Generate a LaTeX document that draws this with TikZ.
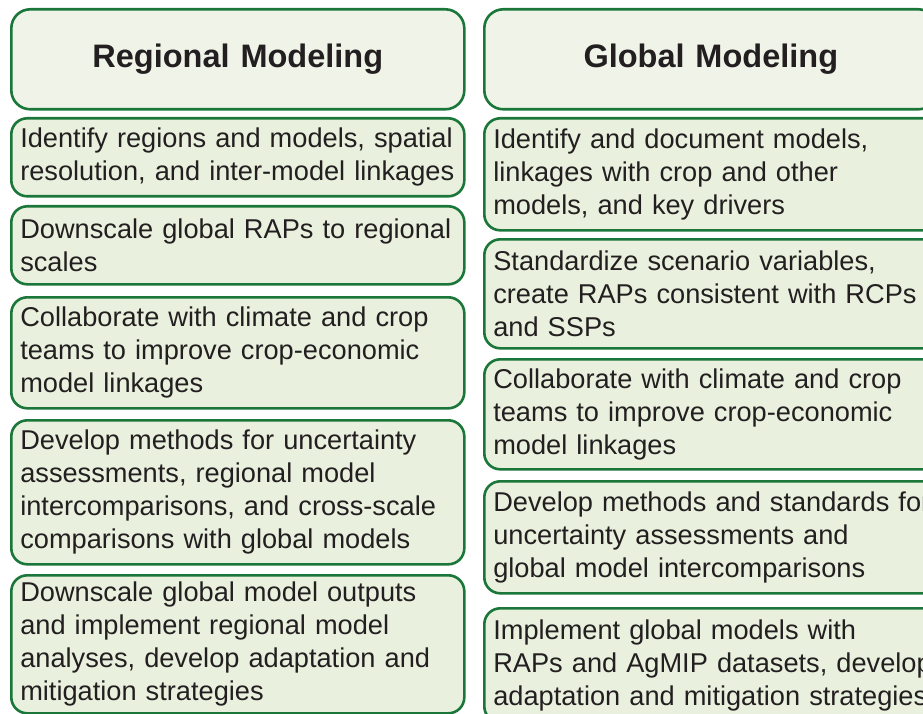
\documentclass[tikz,border=0pt]{standalone}
\usepackage{fontspec}
\setmainfont{Liberation Sans}
\usepackage{tikz}

\definecolor{boxline}{RGB}{27,118,58}
\definecolor{headfill}{RGB}{240,244,232}
\definecolor{itemfill}{RGB}{233,241,222}
\definecolor{inktext}{RGB}{35,31,32}

\tikzset{
    headbox/.style={draw=boxline, line width=2.6pt, fill=headfill, rounded corners=19pt,
        anchor=north west, text width=433pt, inner xsep=10pt, align=center,
        minimum height=100pt, text=inktext, font=\fontsize{32.5}{39}\selectfont\bfseries},
    itembox/.style={draw=boxline, line width=2.6pt, fill=itemfill, rounded corners=16pt,
        anchor=north west, text width=435pt, inner xsep=9pt, inner ysep=0pt, align=left,
        text=inktext, font=\fontsize{27.2}{33}\selectfont},
    wideitem/.style={itembox, text width=450pt}
}

\begin{document}
\begin{tikzpicture}[x=1pt,y=-1pt]
        \useasboundingbox (0,0) rectangle (923,714);
        \clip (0,0) rectangle (923,714);

        % regional column
        \node [headbox] (reghead) at (10,8) {Regional Modeling};
        \node [itembox, minimum height=78pt] (reg1) at (10,117) {\mbox{Identify regions and models, spatial}\\\mbox{resolution, and inter-model linkages}};
        \node [itembox, minimum height=78pt] (reg2) at (10,205) {\mbox{Downscale global RAPs to regional}\\scales};
        \node [itembox, minimum height=111pt] (reg3) at (10,296) {Collaborate with climate and crop\\teams to improve crop-economic\\model linkages};
        \node [itembox, minimum height=144pt] (reg4) at (10,419) {Develop methods for uncertainty\\assessments, regional model\\intercomparisons, and cross-scale\\comparisons with global models};
        \node [itembox, minimum height=138pt] (reg5) at (10,574) {Downscale global model outputs\\and implement regional model\\analyses, develop adaptation and\\mitigation strategies};

        % global column
        \node [headbox] (glohead) at (483,8) {Global Modeling};
        \node [wideitem, minimum height=112pt] (glo1) at (483,117) {Identify and document models,\\linkages with crop and other\\models, and key drivers};
        \node [wideitem, minimum height=109pt] (glo2) at (483,238) {Standardize scenario variables,\\create RAPs consistent with RCPs\\and SSPs};
        \node [wideitem, minimum height=110pt] (glo3) at (483,358) {Collaborate with climate and crop\\teams to improve crop-economic\\model linkages};
        \node [wideitem, minimum height=112pt] (glo4) at (483,480) {Develop methods and standards for\\uncertainty assessments and\\global model intercomparisons};
        \node [wideitem, minimum height=114pt] (glo5) at (483,607) {Implement global models with\\RAPs and AgMIP datasets, develop\\adaptation and mitigation strategies};
    \end{tikzpicture}
\end{document}
